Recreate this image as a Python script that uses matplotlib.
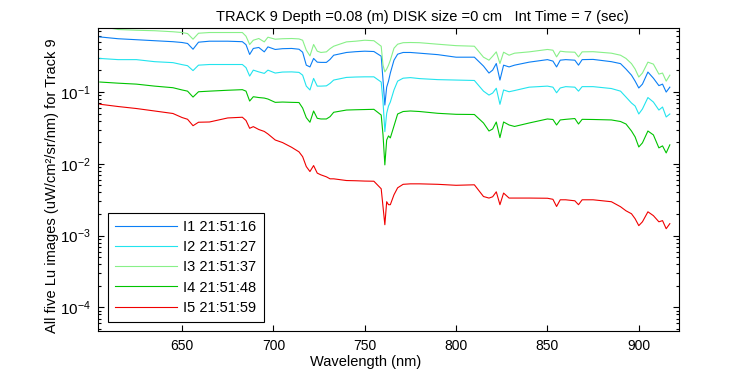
# Package Import
import matplotlib
import matplotlib.pyplot as plt
import numpy as np
from matplotlib.ticker import LogLocator, NullFormatter

# Settings
matplotlib.use('Agg')
plt.rcParams['font.family'] = ['Liberation Sans', 'DejaVu Sans']
plt.rcParams['mathtext.fontset'] = 'custom'
plt.rcParams['mathtext.rm'] = 'Liberation Sans'
plt.rcParams['mathtext.default'] = 'regular'

# Data
wavelength = [605, 615, 625, 635, 645, 650, 653, 656, 659,
              665, 675, 683, 685, 687, 689, 692, 695, 697, 701,
              705, 710, 714, 716, 718, 720, 722, 724, 726, 729,
              731, 733, 740, 745, 750, 755, 759, 760, 761, 762,
              763, 764, 766, 768, 771, 775, 780, 790, 800, 810,
              815, 818, 820, 822, 824, 826, 829, 832, 840, 850,
              853, 855, 857, 860, 865, 867, 869, 875, 885, 890,
              893, 896, 898, 900, 902, 905, 908, 911, 913, 915,
              917]

i1 = [0.586, 0.553, 0.536, 0.519, 0.503, 0.490, 0.475, 0.395, 0.495,
      0.511, 0.511, 0.503, 0.457, 0.334, 0.405, 0.418, 0.363, 0.426, 0.392,
      0.402, 0.405, 0.395, 0.359, 0.237, 0.224, 0.294, 0.261, 0.259, 0.259,
      0.285, 0.326, 0.356, 0.365, 0.371, 0.367, 0.316, 0.147, 0.066, 0.117,
      0.142, 0.184, 0.278, 0.337, 0.356, 0.356, 0.348, 0.332, 0.306, 0.306,
      0.230, 0.184, 0.202, 0.250, 0.147, 0.237, 0.224, 0.237, 0.261, 0.283,
      0.270, 0.224, 0.278, 0.283, 0.278, 0.237, 0.283, 0.285, 0.265, 0.249,
      0.209, 0.172, 0.142, 0.114, 0.129, 0.190, 0.156, 0.123, 0.129, 0.100,
      0.117]

i2 = [0.294, 0.283, 0.283, 0.265, 0.257, 0.241, 0.233, 0.199, 0.237,
      0.242, 0.242, 0.242, 0.219, 0.167, 0.202, 0.191, 0.182, 0.202, 0.184,
      0.190, 0.191, 0.188, 0.172, 0.121, 0.107, 0.155, 0.121, 0.121, 0.122,
      0.132, 0.147, 0.160, 0.162, 0.163, 0.163, 0.138, 0.0733, 0.0281, 0.0506,
      0.0639, 0.0726, 0.107, 0.142, 0.156, 0.159, 0.154, 0.149, 0.147, 0.145,
      0.103, 0.0908, 0.0968, 0.113, 0.0675, 0.107, 0.101, 0.105, 0.117, 0.121,
      0.117, 0.0978, 0.114, 0.119, 0.117, 0.103, 0.119, 0.119, 0.112, 0.103,
      0.0852, 0.0704, 0.0639, 0.0495, 0.0581, 0.0839, 0.0726, 0.0562, 0.0619, 0.0450,
      0.0495]

i3 = [0.826, 0.743, 0.726, 0.715, 0.692, 0.675, 0.653, 0.545, 0.660,
      0.675, 0.675, 0.675, 0.600, 0.460, 0.527, 0.557, 0.500, 0.581, 0.545,
      0.553, 0.557, 0.550, 0.527, 0.383, 0.319, 0.460, 0.371, 0.356, 0.363,
      0.402, 0.435, 0.500, 0.511, 0.527, 0.519, 0.435, 0.237, 0.191, 0.209,
      0.237, 0.278, 0.408, 0.464, 0.487, 0.490, 0.487, 0.464, 0.443, 0.435,
      0.306, 0.278, 0.316, 0.363, 0.250, 0.359, 0.326, 0.348, 0.363, 0.392,
      0.383, 0.309, 0.371, 0.363, 0.359, 0.309, 0.363, 0.365, 0.348, 0.326,
      0.294, 0.249, 0.209, 0.162, 0.184, 0.261, 0.245, 0.178, 0.184, 0.142,
      0.172]

i4 = [0.138, 0.133, 0.129, 0.121, 0.115, 0.107, 0.103, 0.0852, 0.101,
      0.103, 0.106, 0.108, 0.103, 0.0750, 0.0861, 0.0839, 0.0825, 0.0800, 0.0719,
      0.0726, 0.0719, 0.0715, 0.0599, 0.0440, 0.0380, 0.0545, 0.0431, 0.0422, 0.0422,
      0.0454, 0.0523, 0.0562, 0.0567, 0.0571, 0.0575, 0.0479, 0.0253, 0.00968, 0.0215,
      0.0245, 0.0230, 0.0337, 0.0495, 0.0536, 0.0545, 0.0536, 0.0506, 0.0490, 0.0487,
      0.0371, 0.0287, 0.0306, 0.0383, 0.0232, 0.0383, 0.0348, 0.0332, 0.0371, 0.0422,
      0.0415, 0.0348, 0.0409, 0.0417, 0.0428, 0.0359, 0.0417, 0.0415, 0.0409, 0.0389,
      0.0359, 0.0287, 0.0237, 0.0172, 0.0196, 0.0287, 0.0253, 0.0167, 0.0178, 0.0142,
      0.0184]

i5 = [0.0677, 0.0629, 0.0590, 0.0545, 0.0503, 0.0442, 0.0418, 0.0340, 0.0380,
      0.0383, 0.0436, 0.0446, 0.0402, 0.0313, 0.0330, 0.0301, 0.0283, 0.0261, 0.0215,
      0.0198, 0.0170, 0.0147, 0.0126, 0.00917, 0.00782, 0.00947, 0.00743, 0.00703, 0.00660,
      0.00619, 0.00619, 0.00586, 0.00582, 0.00576, 0.00573, 0.00450, 0.00253, 0.00142, 0.00297,
      0.00270, 0.00270, 0.00371, 0.00464, 0.00519, 0.00527, 0.00527, 0.00519, 0.00503, 0.00511,
      0.00351, 0.00334, 0.00348, 0.00408, 0.00270, 0.00392, 0.00334, 0.00334, 0.00334, 0.00332,
      0.00321, 0.00255, 0.00316, 0.00316, 0.00306, 0.00270, 0.00316, 0.00316, 0.00297, 0.00253,
      0.00222, 0.00202, 0.00172, 0.00138, 0.00156, 0.00215, 0.00190, 0.00156, 0.00162, 0.00125,
      0.00147]

labels = ['I1 21:51:16', 'I2 21:51:27', 'I3 21:51:37', 'I4 21:51:48', 'I5 21:51:59']
colors = ['#0a7ff5', '#22e4ee', '#88f088', '#00c400', '#f00000']
series = [i1, i2, i3, i4, i5]

# Create the figure
fig = plt.figure(figsize = (7.5, 3.75), dpi = 100)
ax = fig.add_axes([0.1307, 0.1173, 0.7746, 0.808])

for values, label, color in zip(series, labels, colors):
    ax.plot(wavelength, values, color = color, lw = 0.8, label = label)

# Axes
ax.set_yscale('log')
ax.set_xlim(604, 922)
ax.set_ylim(4.7e-5, 0.78)
ax.set_xticks([650, 700, 750, 800, 850, 900])
ax.yaxis.set_minor_locator(LogLocator(base = 10, subs = np.arange(2, 10)))
ax.yaxis.set_minor_formatter(NullFormatter())
ax.tick_params(which = 'both', direction = 'in', top = True, right = True,
               labelsize = 10, width = 0.8)
ax.tick_params(which = 'major', length = 4, pad = 6)
ax.tick_params(axis = 'y', which = 'major', pad = 5, labelsize = 11)
ax.tick_params(which = 'minor', length = 2.5)
for spine in ax.spines.values():
    spine.set_linewidth(0.8)

# MLS
ax.set_title('TRACK 9 Depth =0.08 (m) DISK size =0 cm   Int Time = 7 (sec)',
             x = 0.559, pad = 5, fontsize = 10.5)
ax.set_xlabel('Wavelength (nm)', fontsize = 10.5)
ax.xaxis.set_label_coords(0.46, -0.078)
ax.set_ylabel('All five Lu images (uW/cm\u00b2/sr/nm) for Track 9', fontsize = 10.5)
ax.yaxis.set_label_coords(-0.068, 0.48)

leg = ax.legend(loc = 'lower left', bbox_to_anchor = (0.0172, 0.0297),
                borderaxespad = 0, fancybox = False, framealpha = 1,
                edgecolor = 'black', handlelength = 4.2, handletextpad = 0.45,
                labelspacing = 0.42, borderpad = 0.5, fontsize = 10.5)
leg.get_frame().set_linewidth(0.8)

fig.savefig('out.png', dpi = 100)
plt.close()
